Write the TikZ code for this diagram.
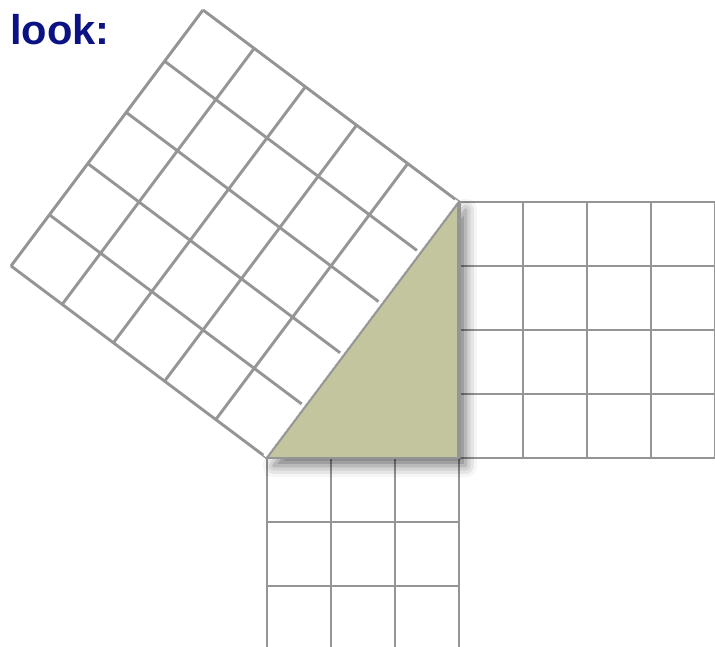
\documentclass[tikz,border=0pt]{standalone}
\usepackage{fontspec}
\setmainfont{Liberation Sans}
\usepackage{tikz}
\usetikzlibrary{shadows.blur}
\definecolor{gridgray}{HTML}{959595}
\definecolor{olive}{HTML}{C2C59D}
\definecolor{navy}{HTML}{0B1283}

\begin{document}
\begin{tikzpicture}[x=1cm, y=1cm]
\tikzstyle{gridline} = [draw=gridgray, line width=1.3pt]
\tikzstyle{tri} = [fill=olive, draw=gridgray, line width=0.8pt, line join=round,
  blur shadow={shadow xshift=3pt, shadow yshift=-3.5pt, shadow blur radius=5pt, shadow opacity=55}]

\useasboundingbox (-4.172,-2.953) rectangle (7.0,7.156);
\clip (-4.172,-2.953) rectangle (7.0,7.156);

% squares on the three sides
\draw[gridline] (0,-3) grid (3,0);
\draw[gridline] (3,0) grid (7,4);
\begin{scope}[cm={0.6,0.8,-0.8,0.6,(0,0)}]
  \draw[gridline] (0,0) grid (5,5);
\end{scope}

\coordinate (A) at (0,0);
\coordinate (B) at (3,0);
\coordinate (C) at (3,4);

\draw[white, line width=4pt] (A) -- (C);
\path[tri] (A) -- (B) -- (C) -- cycle;
\draw[gridline, line width=1.8pt] (B) -- (C);

\node[anchor=base west, inner sep=0pt, text=navy, font=\bfseries\fontsize{18.5}{22}\selectfont] (title) at (-4.02,6.46) {look:};
\end{tikzpicture}
\end{document}
